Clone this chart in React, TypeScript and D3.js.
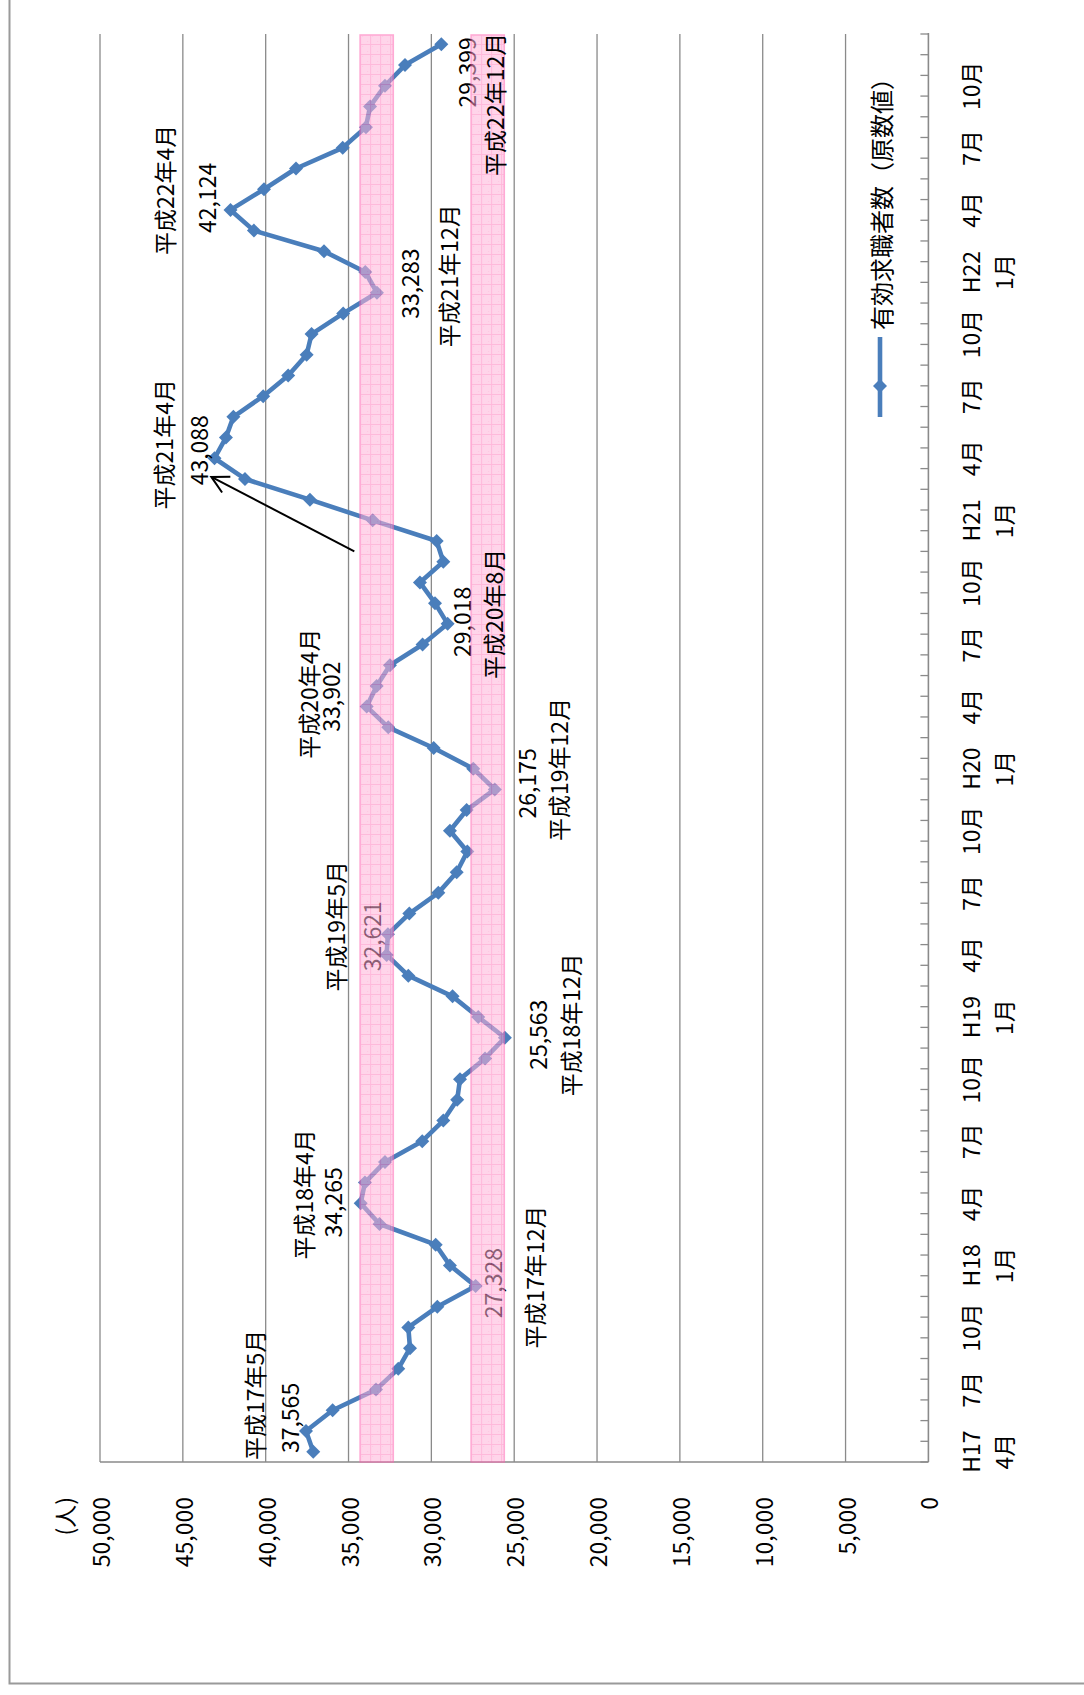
import React from "react";
import * as d3 from "d3";

const W = 1084;
const H = 1695;

// Monthly categories, 平成17年4月 – 平成22年12月 (69 months)
const months = d3.timeMonth.range(new Date(2005, 3, 1), new Date(2011, 0, 1));

// 有効求職者数（原数値）
const jobSeekers = [
  37130, 37565, 35960, 33340, 32000, 31290, 31390, 29640, 27328,
  28880, 29740, 33130, 34265, 34010, 32800, 30550, 29280, 28440, 28270, 26760, 25563,
  27170, 28720, 31390, 32700, 32621, 31330, 29580, 28470, 27830, 28880, 27870, 26175,
  27470, 29860, 32600, 33902, 33300, 32500, 30530, 29018, 29780, 30690, 29280, 29680,
  33540, 37330, 41250, 43088, 42400, 41950, 40150, 38640, 37530, 37230, 35320, 33283,
  33990, 36480, 40710, 42124, 40100, 38170, 35350, 33950, 33700, 32800, 31590, 29399,
];

const valueTicks = [0, 5000, 10000, 15000, 20000, 25000, 30000, 35000, 40000, 45000, 50000];

// one label every third month, starting at the first category
const monthTickLabels = [
  ["H17", "4月"], ["7月"], ["10月"],
  ["H18", "1月"], ["4月"], ["7月"], ["10月"],
  ["H19", "1月"], ["4月"], ["7月"], ["10月"],
  ["H20", "1月"], ["4月"], ["7月"], ["10月"],
  ["H21", "1月"], ["4月"], ["7月"], ["10月"],
  ["H22", "1月"], ["4月"], ["7月"], ["10月"],
];

// shaded value ranges (peak band and trough band)
const bands = [
  [32300, 34300],
  [25600, 27600],
];

// months whose values are labelled
const labelledMonths = [1, 8, 12, 20, 25, 32, 36, 40, 48, 56, 60, 68];
const annotationTexts = [
  "平成17年5月", "平成17年12月", "平成18年4月", "平成18年12月", "平成19年5月", "平成19年12月",
  "平成20年4月", "平成20年8月", "平成21年4月", "平成21年12月", "平成22年4月", "平成22年12月",
];

const seriesName = "有効求職者数（原数値）";
const unitLabel = "(人)";

// label placement relative to its point: value label offset, note offset
const labelLayout = [
  { vdx: -17, vdy: -13, ndx: -52, ndy: -36 },
  { vdx: 16, vdy: -3, ndx: 58, ndy: -9 },
  { vdx: -29, vdy: -1, ndx: -58, ndy: -9 },
  { vdx: 32, vdy: -3, ndx: 65, ndy: -13 },
  { vdx: -17, vdy: 2, ndx: -53, ndy: -8 },
  { vdx: 31, vdy: -6, ndx: 63, ndy: -20 },
  { vdx: -37, vdy: -10, ndx: -59, ndy: -13 },
  { vdx: 13, vdy: -2, ndx: 45, ndy: -10 },
  { vdx: -17, vdy: -8, ndx: -52, ndy: -14 },
  { vdx: 32, vdy: -9, ndx: 71, ndy: -17 },
  { vdx: -24, vdy: -12, ndx: -66, ndy: -20 },
  { vdx: 25, vdy: 28, ndx: 53, ndy: 60 },
];

const FONT = "'Noto Sans CJK JP', 'Noto Sans', sans-serif";
const BLUE = "#4A7EBB";
const GRID = "#8a8a8a";
const FS = 23;

export default function App() {
  // plot frame (chart drawn turned a quarter turn: values run right→left, time bottom→top)
  const left = 100;
  const right = 928.4;
  const top = 34;
  const bottom = 1462;

  const x = d3.scaleLinear().domain([0, 50000]).range([right, left]);
  const y = d3
    .scaleBand<number>()
    .domain(d3.range(months.length))
    .range([bottom, top])
    .padding(0);
  const bw = y.bandwidth();
  const cy = (i: number) => (y(i) as number) + bw / 2;

  const linePath = d3
    .line<number>()
    .x((v) => x(v))
    .y((_, i) => cy(i))(jobSeekers) as string;

  const r = 7;
  const diamond = `M0,${-r}L${r},0L0,${r}L${-r},0Z`;

  const rot = (px: number, py: number) => `translate(${px},${py}) rotate(-90)`;

  // arrow from the 33,000 region up to the 平成21年4月 peak
  const arrowTail = { v: 34650, i: 44.0 };
  const arrowHead = { v: 43280, i: 47.6 };
  const ax1 = x(arrowTail.v);
  const ay1 = bottom - arrowTail.i * bw;
  const ax2 = x(arrowHead.v);
  const ay2 = bottom - arrowHead.i * bw;
  const ang = Math.atan2(ay1 - ay2, ax1 - ax2);
  const barb = 19;
  const spread = (28 * Math.PI) / 180;
  const b1 = [ax2 + barb * Math.cos(ang - spread), ay2 + barb * Math.sin(ang - spread)];
  const b2 = [ax2 + barb * Math.cos(ang + spread), ay2 + barb * Math.sin(ang + spread)];

  const legendX = 880;

  return (
    <div style={{ position: "absolute", left: 0, top: 0, background: "#fff" }}>
      <svg width={W} height={H} style={{ display: "block", fontFamily: FONT }}>
        <defs>
          {bands.map((b, k) => (
            <pattern
              key={k}
              id={`bandGrid${k}`}
              patternUnits="userSpaceOnUse"
              x={x(b[1])}
              y={top}
              width={10}
              height={10}
            >
              <rect width={10} height={10} fill="#FFB3D9" />
              <rect x={2} y={2} width={1} height={1} fill="#FF99CC" />
              <rect x={7} y={7} width={1} height={1} fill="#FF99CC" />
              <path d="M0,0.5H10M0.5,0V10" stroke="#FF80BF" strokeWidth={1} />
            </pattern>
          ))}
        </defs>

        <rect width={W} height={H} fill="#fff" />
        {/* outer chart frame */}
        <path d={`M9.5,-2V1683.5H${W + 2}`} fill="none" stroke="#9a9a9a" strokeWidth={2} />

        {/* value gridlines */}
        {valueTicks
          .filter((t) => t > 0)
          .map((t) => (
            <line key={t} x1={x(t)} x2={x(t)} y1={top} y2={bottom} stroke={GRID} strokeWidth={1.3} />
          ))}

        {/* value axis */}
        <line x1={left} x2={right} y1={bottom} y2={bottom} stroke={GRID} strokeWidth={1.6} />
        {valueTicks.map((t) => (
          <text
            key={t}
            transform={rot(x(t), 1497)}
            textAnchor="end"
            dominantBaseline="central"
            fontSize={FS}
            fill="#000"
          >
            {d3.format(",")(t)}
          </text>
        ))}
        <text transform={rot(64, 1497)} textAnchor="end" dominantBaseline="central" fontSize={FS}>
          {unitLabel}
        </text>

        {/* category axis */}
        <line x1={right} x2={right} y1={top - 1} y2={bottom} stroke={GRID} strokeWidth={1.6} />
        {d3.range(months.length + 1).map((k) => (
          <line
            key={k}
            x1={right - 8}
            x2={right}
            y1={bottom - k * bw}
            y2={bottom - k * bw}
            stroke={GRID}
            strokeWidth={1.3}
          />
        ))}
        {monthTickLabels.map((lines, k) => {
          const i = k * 3;
          return lines.map((s, j) => (
            <text
              key={`${k}-${j}`}
              transform={rot(970 + j * 33, cy(i))}
              textAnchor="middle"
              dominantBaseline="central"
              fontSize={FS}
            >
              {s}
            </text>
          ));
        })}

        {/* series */}
        <path d={linePath} fill="none" stroke={BLUE} strokeWidth={4.6} strokeLinejoin="round" />
        {jobSeekers.map((v, i) => (
          <path key={i} d={diamond} transform={`translate(${x(v)},${cy(i)})`} fill={BLUE} />
        ))}

        {/* value labels */}
        {labelledMonths.map((i, k) => (
          <text
            key={i}
            transform={rot(x(jobSeekers[i]) + labelLayout[k].vdx, cy(i) + labelLayout[k].vdy)}
            textAnchor="middle"
            dominantBaseline="central"
            fontSize={FS}
          >
            {d3.format(",")(jobSeekers[i])}
          </text>
        ))}

        {/* shaded ranges, laid over the series */}
        {bands.map((b, k) => (
          <g key={k} opacity={0.55}>
            <rect
              x={x(b[1])}
              y={top + 1}
              width={x(b[0]) - x(b[1])}
              height={bottom - top - 1}
              fill={`url(#bandGrid${k})`}
              stroke="#FF66B3"
              strokeWidth={1.6}
            />
          </g>
        ))}

        {/* notes */}
        {labelledMonths.map((i, k) => (
          <text
            key={`n${i}`}
            transform={rot(x(jobSeekers[i]) + labelLayout[k].ndx, cy(i) + labelLayout[k].ndy)}
            textAnchor="middle"
            dominantBaseline="central"
            fontSize={FS}
          >
            {annotationTexts[k]}
          </text>
        ))}

        {/* arrow */}
        <line x1={ax1} y1={ay1} x2={ax2} y2={ay2} stroke="#000" strokeWidth={2} />
        <path
          d={`M${b1[0]},${b1[1]}L${ax2},${ay2}L${b2[0]},${b2[1]}`}
          fill="none"
          stroke="#000"
          strokeWidth={2}
        />

        {/* legend */}
        <line x1={legendX} x2={legendX} y1={337} y2={417} stroke={BLUE} strokeWidth={4.6} />
        <path d={diamond} transform={`translate(${legendX},${386})`} fill={BLUE} />
        <text transform={rot(legendX, 330)} textAnchor="start" dominantBaseline="central" fontSize={24}>
          {seriesName}
        </text>
      </svg>
    </div>
  );
}
